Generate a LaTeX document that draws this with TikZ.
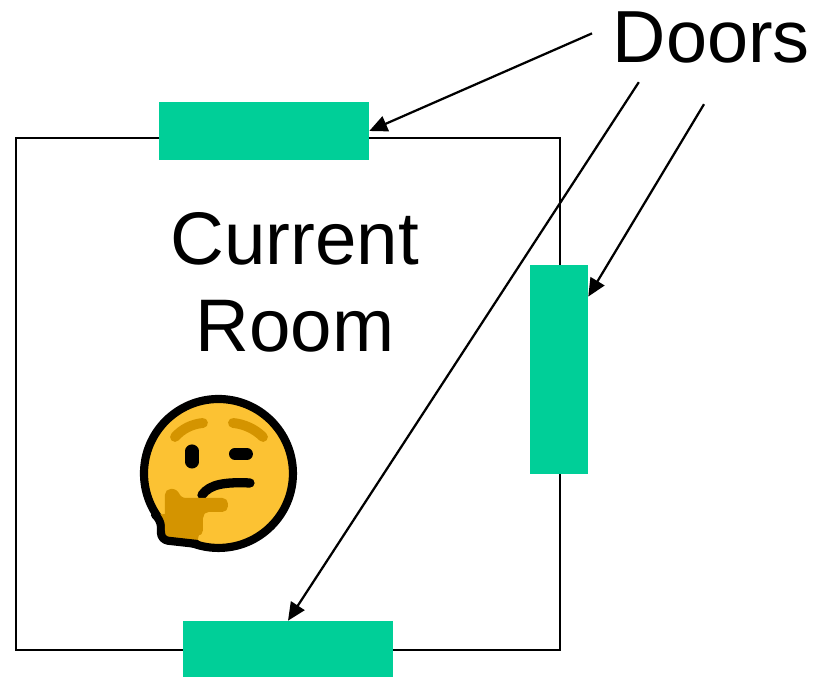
\documentclass[tikz,border=0pt]{standalone}
\usepackage{fontspec}
\setmainfont{Liberation Sans}
\usepackage{xcolor}
\usetikzlibrary{arrows.meta}
\definecolor{doorgreen}{RGB}{0,207,152}
\definecolor{faceyellow}{RGB}{252,194,51}
\definecolor{handbrown}{RGB}{212,148,0}
\tikzset{
    room/.style={rectangle, draw, line width=1.5pt, minimum width=13.6cm, minimum height=12.8cm},
    door/.style={rectangle, fill=doorgreen, inner sep=0pt},
    label/.style={font=\fontsize{52.5}{62}\selectfont, align=center, inner sep=0pt},
    bigger/.style={font=\fontsize{53}{62}\selectfont},
    pointer/.style={-{Triangle[length=0.45cm,width=0.4cm]}, line width=1.6pt},
    faceline/.style={line width=5.8pt, line cap=round, line join=round},
    browline/.style={handbrown, line width=7pt, line cap=round}
}
\begin{document}
\begin{tikzpicture}
    \useasboundingbox (0,0) rectangle (20.325,16.925);
    % Room outline
    \node[room] (room) at (7.2,7.075) {};

    % Doors
    \node[door, minimum width=5.25cm, minimum height=1.45cm] (topdoor) at (6.6,13.65) {};
    \node[door, minimum width=1.45cm, minimum height=5.225cm] (rightdoor) at (13.975,7.69) {};
    \node[door, minimum width=5.25cm, minimum height=1.4cm] (bottomdoor) at (7.2,0.7) {};

    % Labels
    \node[label] (doors) at (17.78,16.0) {Doors};
    \node[label, bigger] (current) at (7.37,9.87) {Current\\Room};

    % Pointers from label
    \coordinate (starttop) at (14.8,16.09);
    \coordinate (startbottom) at (15.97,14.87);
    \coordinate (startright) at (17.6,14.32);
    \draw[pointer] (starttop) -- (topdoor.east);
    \draw[pointer] (startright) -- ([yshift=-0.8cm]rightdoor.north east);
    \draw[pointer] (startbottom) -- (bottomdoor.north);

    % Thinking face, drawn in pixels of the zoomed area
    \begin{scope}[shift={(3,7.425)}, x=0.025cm, y=-0.025cm]
        \draw[faceline, fill=faceyellow] (98.5,93.5) circle [radius=74.5];
        \fill[handbrown] (36,135) -- (40,160) -- (77,163) -- (85,130) -- cycle;
        \draw[faceline, rounded corners=5pt] (35,135) -- (41,140) -- (41,160) -- (77,164);
        \draw[browline] (55,57) .. controls (62,49) and (72,44) .. (83,43);
        \draw[browline] (113,43) .. controls (124,44) and (135,49) .. (143,57);
        \draw[black, line width=9.3pt, line cap=round] (72,71) -- (72,82);
        \draw[black, line width=8.5pt, line cap=round] (115,74) -- (127,74);
        \draw[black, line width=6.6pt, line cap=round] (82,115) .. controls (90,104) and (105,102) .. (130,103);
        \fill[handbrown, rounded corners=4pt] (45,156) -- (45,109) -- (58,109) -- (60,118) -- (108,118)
            -- (108,132) -- (83,132) -- (83,156) -- cycle;
    \end{scope}
\end{tikzpicture}
\end{document}
